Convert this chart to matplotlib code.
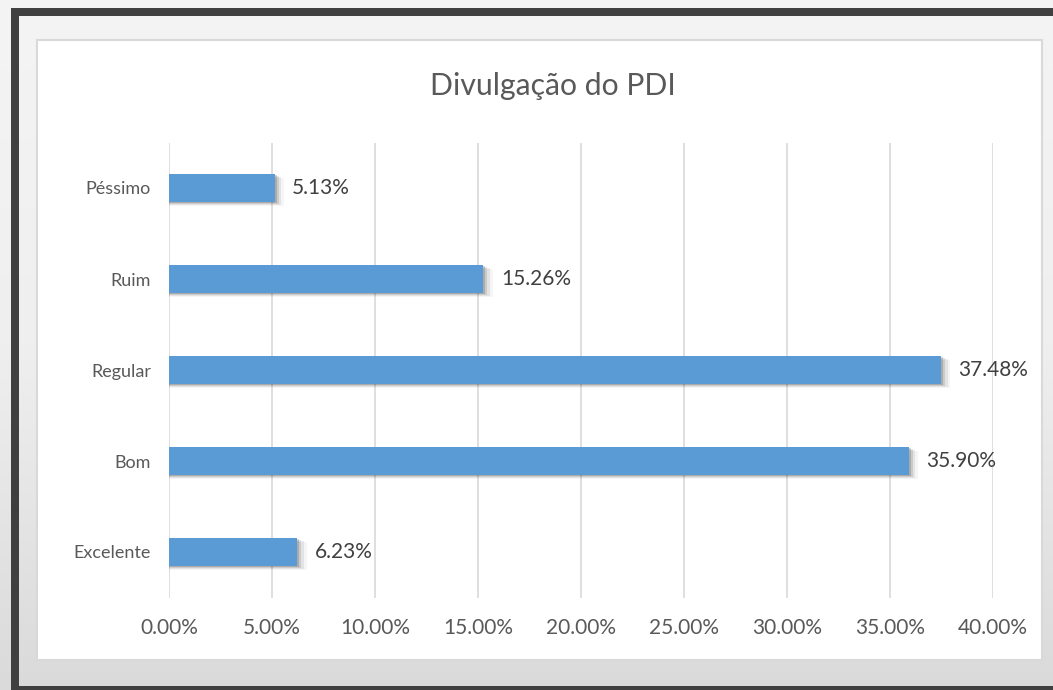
import matplotlib
matplotlib.use("Agg")
import matplotlib.pyplot as plt
import numpy as np
from matplotlib.patches import Rectangle

categories = ["Excelente", "Bom", "Regular", "Ruim", "Péssimo"]
values = [6.23, 35.90, 37.48, 15.26, 5.13]
xticks = [0, 5, 10, 15, 20, 25, 30, 35, 40]
title = "Divulgação do PDI"

plt.rcParams['font.family'] = ['Lato', 'DejaVu Sans']

W, H = 1053, 690
fig = plt.figure(figsize=(W / 100, H / 100), dpi=100)
fig.patch.set_facecolor("#eeeeee")

# background gradient
bg = fig.add_axes([0, 0, 1, 1], zorder=0)
grad = np.linspace(0, 1, 256).reshape(-1, 1)
bg.imshow(grad, cmap=matplotlib.colors.LinearSegmentedColormap.from_list(
    "g", ["#f4f4f4", "#efefef", "#dadada"]), aspect="auto", extent=[0, 1, 0, 1], origin="upper")
bg.set_xlim(0, 1); bg.set_ylim(0, 1)
bg.axis("off")

def frect(x0, y0, x1, y1, **kw):
    bg.add_patch(Rectangle((x0 / W, 1 - y1 / H), (x1 - x0) / W, (y1 - y0) / H,
                           transform=bg.transAxes, **kw))

# dark frame
frect(11, 8, W, 16, facecolor="#404040", edgecolor="none", zorder=3)
frect(11, 8, 19, 690, facecolor="#404040", edgecolor="none", zorder=3)
frect(11, 686, W, 690, facecolor="#404040", edgecolor="none", zorder=3)
# white chart box
frect(37, 40, 1042, 660, facecolor="white", edgecolor="#d9d9d9", linewidth=1.5, zorder=4)

ax_l, ax_r, ax_t, ax_b = 169, 993, 142.5, 597.5
ax = fig.add_axes([ax_l / W, 1 - ax_b / H, (ax_r - ax_l) / W, (ax_b - ax_t) / H], zorder=3)
ax.patch.set_alpha(0)

y = list(range(len(categories)))
bh = 0.31
# soft shadow (down-right)
for dx, dy, a in [(0.1, 0.01, 0.16), (0.2, 0.02, 0.10), (0.32, 0.03, 0.07), (0.45, 0.04, 0.04)]:
    ax.barh([v - dy for v in y], [v + dx for v in values], height=bh,
            color="#000000", alpha=a, zorder=2, linewidth=0)
ax.barh(y, values, height=bh, color="#5B9BD5", zorder=3, linewidth=0)

for yi, v in zip(y, values):
    ax.text(v + 0.85, yi, f"{v:.2f}%", va="center", ha="left",
            fontsize=15, color="#404040", zorder=4)

ax.set_xlim(0, 40)
ax.set_ylim(-0.5, len(categories) - 0.5)
ax.set_xticks(xticks)
ax.set_xticklabels([f"{t:.2f}%" for t in xticks])
ax.set_yticks(y)
ax.set_yticklabels(categories)
ax.tick_params(axis="x", length=0, labelsize=15, labelcolor="#595959", pad=15)
ax.tick_params(axis="y", length=0, labelsize=13, labelcolor="#595959", pad=13)
ax.grid(axis="x", color="#d9d9d9", linewidth=1.2, zorder=0)
ax.set_axisbelow(True)
for s in ax.spines.values():
    s.set_visible(False)

fig.text(553 / W, 1 - 86 / H, title, ha="center", va="center",
         fontsize=21.7, color="#595959", zorder=5)

fig.savefig("out.png", dpi=100)
